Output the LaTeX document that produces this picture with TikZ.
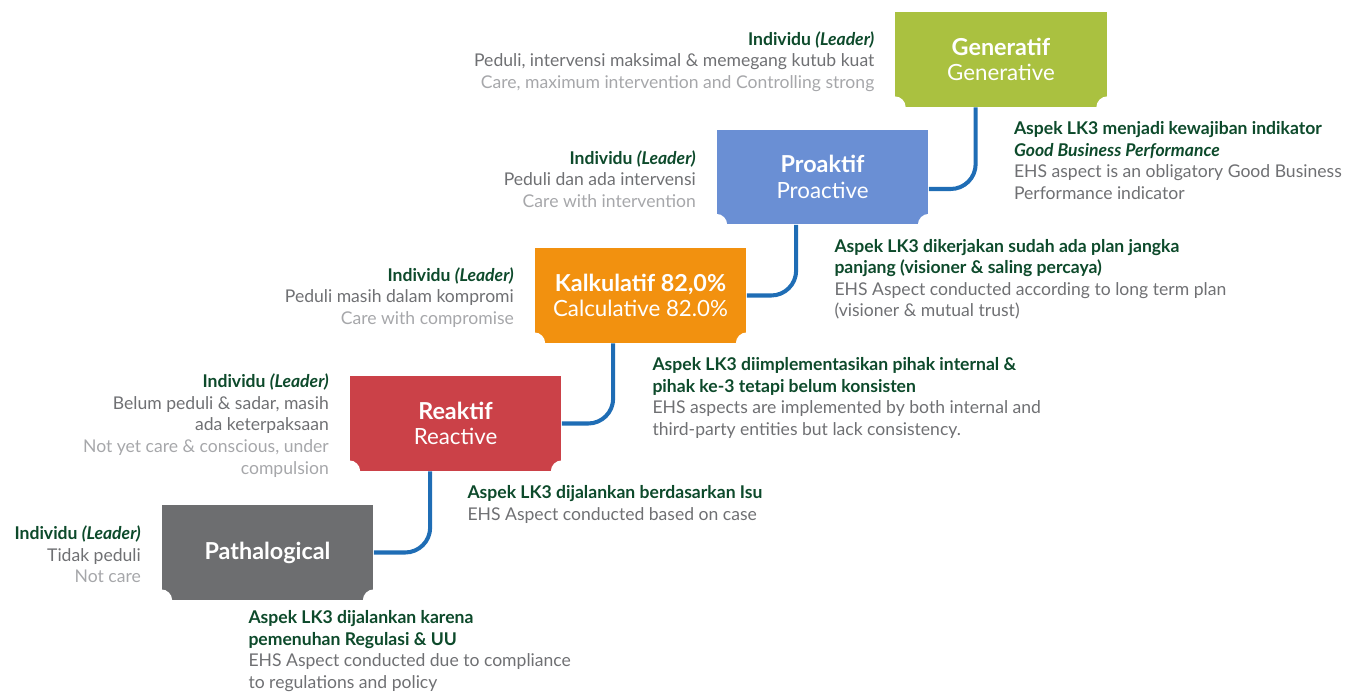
\documentclass[tikz,border=0pt]{standalone}
\usepackage{fontspec}
\setmainfont{Lato}
\usetikzlibrary{positioning}

\definecolor{genGreen}{HTML}{AAC140}
\definecolor{proBlue}{HTML}{6A8FD4}
\definecolor{kalOrange}{HTML}{F2910F}
\definecolor{reaRed}{HTML}{CB4148}
\definecolor{patGrey}{HTML}{6D6E70}
\definecolor{linkBlue}{HTML}{1F6DB5}
\definecolor{deepGreen}{HTML}{0D4A2B}
\definecolor{midGrey}{HTML}{6F7073}
\definecolor{paleGrey}{HTML}{A6A7AA}

\newcommand{\lvtitle}[1]{{\fontsize{13.3}{14.2}\selectfont\textbf{#1}}}

\begin{document}
\begin{tikzpicture}
  [
    x=0.02cm, y=0.02cm,
    level/.style  = {fill=#1, text=white, minimum width=4.24cm, minimum height=1.9cm,
                     inner sep=0, align=center, font=\fontsize{12.7}{14.4}\selectfont},
    who/.style    = {inner sep=0, align=right, text=paleGrey, font=\fontsize{10}{12.3}\selectfont},
    aspect/.style = {inner sep=0, align=left, text=midGrey, font=\fontsize{10}{12.2}\selectfont},
    link/.style   = {draw=linkBlue, line width=2.3pt, rounded corners=0.5cm},
  ]
 \useasboundingbox (0,0) rectangle (1355,-693);

 % the five levels, stepping down to the left
 \node [level=genGreen]  (gen) at (1001,-59.5) {\lvtitle{Generatif}\\Generative};
 \node [level=proBlue]   (pro) at (822.5,-177) {\lvtitle{Proaktif}\\Proactive};
 \node [level=kalOrange] (kal) at (640.5,-295.5) {\lvtitle{Kalkulatif 82,0\%}\\Calculative 82.0\%};
 \node [level=reaRed]    (rea) at (455.5,-423.5) {\lvtitle{Reaktif}\\Reactive};
 \node [level=patGrey]   (pat) at (267.5,-552.5) {\lvtitle{Pathalogical}};

 % notched bottom corners
 \foreach \b in {gen,pro,kal,rea,pat}
   \fill [white] (\b.south west) circle (11) (\b.south east) circle (11);

 % links between the steps
 \draw [link] ([xshift=1.62cm]gen.south west) |- ([yshift=-0.24cm]pro.east);
 \draw [link] ([xshift=1.6cm]pro.south west) |- (kal.east);
 \draw [link] ([xshift=1.58cm]kal.south west) |- (rea.east);
 \draw [link] ([xshift=1.62cm]rea.south west) |- (pat.east);

 % individual (leader) side
 \node [who, left=0.4cm of gen, yshift=-0.04cm] (genWho)
   {\textcolor{deepGreen}{\textbf{Individu \textit{(Leader)}}}\\
    \textcolor{midGrey}{Peduli, intervensi maksimal \& memegang kutub kuat}\\
    Care, maximum intervention and Controlling strong};
 \node [who, left=0.4cm of pro, yshift=-0.04cm] (proWho)
   {\textcolor{deepGreen}{\textbf{Individu \textit{(Leader)}}}\\
    \textcolor{midGrey}{Peduli dan ada intervensi}\\
    Care with intervention};
 \node [who, left=0.4cm of kal, yshift=-0.04cm] (kalWho)
   {\textcolor{deepGreen}{\textbf{Individu \textit{(Leader)}}}\\
    \textcolor{midGrey}{Peduli masih dalam kompromi}\\
    Care with compromise};
 \node [who, left=0.4cm of rea, yshift=-0.04cm] (reaWho)
   {\textcolor{deepGreen}{\textbf{Individu \textit{(Leader)}}}\\
    \textcolor{midGrey}{Belum peduli \& sadar, masih}\\
    \textcolor{midGrey}{ada keterpaksaan}\\
    Not yet care \& conscious, under\\
    compulsion};
 \node [who, left=0.4cm of pat, yshift=-0.04cm] (patWho)
   {\textcolor{deepGreen}{\textbf{Individu \textit{(Leader)}}}\\
    \textcolor{midGrey}{Tidak peduli}\\
    Not care};

 % EHS aspect side
 \node [aspect, below right=0.28cm and 2.38cm of gen.south west] (genAsp)
   {\textcolor{deepGreen}{\textbf{Aspek LK3 menjadi kewajiban indikator}}\\
    \textcolor{deepGreen}{\textbf{\textit{Good Business Performance}}}\\
    EHS aspect is an obligatory Good Business\\
    Performance indicator};
 \node [aspect, below right=0.28cm and 2.36cm of pro.south west] (proAsp)
   {\textcolor{deepGreen}{\textbf{Aspek LK3 dikerjakan sudah ada plan jangka}}\\
    \textcolor{deepGreen}{\textbf{panjang (visioner \& saling percaya)}}\\
    EHS Aspect conducted according to long term plan\\
    (visioner \& mutual trust)};
 \node [aspect, below right=0.28cm and 2.36cm of kal.south west] (kalAsp)
   {\textcolor{deepGreen}{\textbf{Aspek LK3 diimplementasikan pihak internal \&}}\\
    \textcolor{deepGreen}{\textbf{pihak ke-3 tetapi belum konsisten}}\\
    EHS aspects are implemented by both internal and\\
    third-party entities but lack consistency.};
 \node [aspect, below right=0.28cm and 2.36cm of rea.south west] (reaAsp)
   {\textcolor{deepGreen}{\textbf{Aspek LK3 dijalankan berdasarkan Isu}}\\
    EHS Aspect conducted based on case};
 \node [aspect, below right=0.2cm and 1.74cm of pat.south west] (patAsp)
   {\textcolor{deepGreen}{\textbf{Aspek LK3 dijalankan karena}}\\
    \textcolor{deepGreen}{\textbf{pemenuhan Regulasi \& UU}}\\
    EHS Aspect conducted due to compliance\\
    to regulations and policy};
\end{tikzpicture}
\end{document}
